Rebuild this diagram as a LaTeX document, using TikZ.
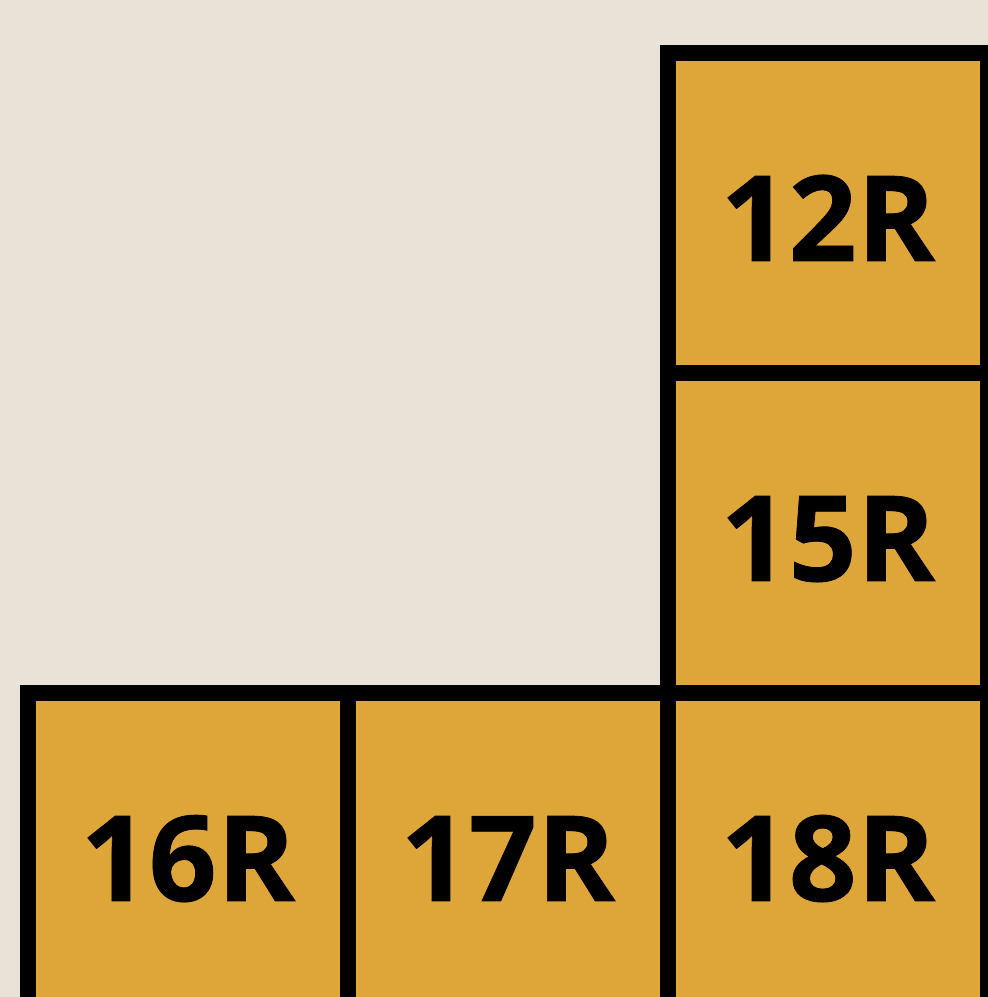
\documentclass[tikz,border=0pt]{standalone}
\usepackage{fontspec}
\setmainfont{Open Sans}[BoldFeatures={FakeBold=0.6}]
\usepackage{tikz}
\usepackage{xcolor}
\usetikzlibrary{positioning}
\definecolor{paper}{RGB}{233,226,215}
\definecolor{seatgold}{RGB}{222,165,56}
\tikzset{
  seat/.style={rectangle, draw=black, fill=seatgold, line width=16pt,
               minimum width=320pt, minimum height=320pt, outer sep=0pt,
               inner sep=0pt, text=black, text height=96pt, text depth=0pt,
               font=\fontsize{119}{119}\selectfont\bfseries},
}

\begin{document}
\begin{tikzpicture}[x=1pt, y=1pt, node distance=0pt]
  \clip (0,0) rectangle (988,997);
  \fill[paper] (0,0) rectangle (988,997);

  \node[seat] (s12) at (828,784) {12R};
  \node[seat, below=of s12] (s15) {15R};
  \node[seat, below=of s15] (s18) {18R};
  \node[seat, left=of s18]  (s17) {17R};
  \node[seat, left=of s17]  (s16) {16R};
\end{tikzpicture}
\end{document}
